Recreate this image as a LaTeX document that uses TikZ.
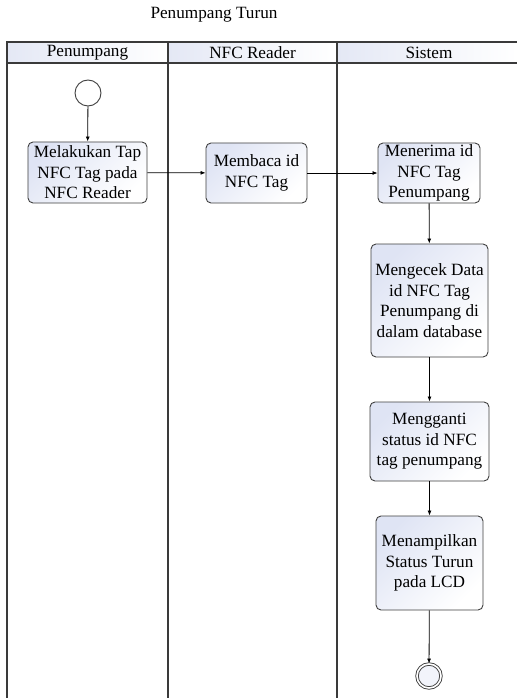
\documentclass[tikz,border=0pt]{standalone}
\usepackage{fontspec}
\setmainfont{Liberation Serif}
\usetikzlibrary{arrows.meta}
\definecolor{lanegray}{HTML}{3A3A3A}
\definecolor{headblue}{HTML}{E4E8F5}
\definecolor{boxblue}{HTML}{DFE4F4}
\definecolor{edgegray}{HTML}{404040}
\begin{document}
\begin{tikzpicture}[x=1bp,y=-1bp,
  txt/.style={font=\fontsize{17.2bp}{20.5bp}\selectfont, text=black},
  activity/.style={txt, draw=edgegray, line width=0.9bp, rounded corners=5bp,
    top color=boxblue, bottom color=white, shading angle=45,
    align=center, inner sep=0pt},
  startnode/.style={circle, draw=edgegray, line width=0.9bp, fill=white,
    minimum size=26bp, inner sep=0pt},
  endnode/.style={circle, draw=edgegray, line width=0.9bp, fill=boxblue!40,
    minimum size=26bp, inner sep=0pt, double=white, double distance=1.6bp},
  flow/.style={draw=black, line width=0.8bp, -{Latex[length=5bp,width=4bp]}},
  lane/.style={draw=lanegray, line width=1.5bp},
  headcell/.style={left color=headblue, right color=white}
]
\useasboundingbox (0,0) rectangle (517,698);
\fill[white] (0,0) rectangle (517,698);

% title
\node[txt] (title) at (214,15) {Penumpang Turun};

% pool header cells
\shade[headcell] (7,42) rectangle (168,63);
\shade[headcell] (168,42) rectangle (337,63);
\shade[headcell] (337,42) rectangle (517,63);
\node[txt] (hpen) at (87.5,52.5) {Penumpang};
\node[txt] (hnfc) at (252.5,52.5) {NFC Reader};
\node[txt] (hsis) at (429,52.5) {Sistem};

% pool and lane lines
\draw[lane] (517,42) -- (7,42) -- (7,698);
\draw[lane] (7,63) -- (517,63);
\draw[lane] (168,42) -- (168,698);
\draw[lane] (337,42) -- (337,698);

% activities
\node[startnode] (start) at (88,93) {};
\node[activity, minimum width=119bp, minimum height=61bp] (tap) at (87.5,172.5)
  {Melakukan Tap\\NFC Tag pada\\NFC Reader};
\node[activity, minimum width=101bp, minimum height=60bp] (baca) at (256.5,173)
  {Membaca id\\NFC Tag};
\node[activity, minimum width=102bp, minimum height=60bp] (terima) at (429,173)
  {Menerima id\\NFC Tag\\Penumpang};
\node[activity, minimum width=117bp, minimum height=113bp] (cek) at (429.5,300.5)
  {Mengecek Data\\id NFC Tag\\Penumpang di\\dalam database};
\node[activity, minimum width=119bp, minimum height=79bp] (ganti) at (429.5,441.5)
  {Mengganti\\status id NFC\\tag penumpang};
\node[activity, minimum width=107bp, minimum height=94bp] (tampil) at (429.5,563)
  {Menampilkan\\Status Turun\\pada LCD};
\node[endnode, minimum size=24bp] (end) at (429,676) {};

% control flow
\draw[flow] (start) -- (tap);
\draw[flow] (tap) -- (baca);
\draw[flow] (baca) -- (terima);
\draw[flow] (terima) -- (cek);
\draw[flow] (cek) -- (ganti);
\draw[flow] (ganti) -- (tampil);
\draw[flow] (tampil) -- (end);
\end{tikzpicture}
\end{document}
